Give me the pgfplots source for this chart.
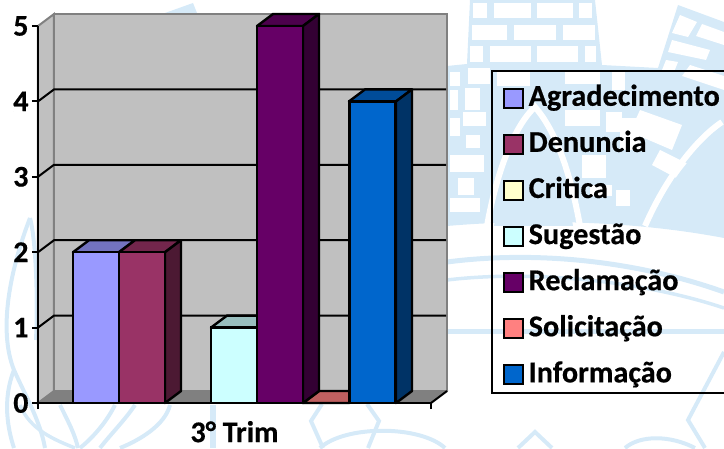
\documentclass[border=0pt]{standalone}
\usepackage{fontspec}
\setmainfont[BoldFeatures={FakeBold=0.5}]{Carlito}
\usepackage{pgfplots}
\pgfplotsset{compat=1.18}

\definecolor{cAgr}{RGB}{153,153,255}
\definecolor{cDen}{RGB}{153,51,102}
\definecolor{cCri}{RGB}{255,255,204}
\definecolor{cSug}{RGB}{204,255,255}
\definecolor{cRec}{RGB}{102,0,102}
\definecolor{cSol}{RGB}{255,128,128}
\definecolor{cInf}{RGB}{0,102,204}
\definecolor{wall}{RGB}{192,192,192}
\definecolor{edge}{RGB}{128,128,128}
\definecolor{wm}{RGB}{214,234,248}

\pgfplotsset{
  front/.style={ybar, bar width=46pt, bar shift=0pt, draw=black, line width=2.4pt, fill=#1},
  face/.style={forget plot, draw=black, line width=2.4pt, line join=round, fill=#1},
  gridl/.style={forget plot, draw=black, line width=2pt},
}

\begin{document}
\begin{tikzpicture}
\clip (-38pt,-45pt) rectangle (686pt,403pt);
% faint building in the slide background, in pixels of the picture
\begin{scope}[x=1pt,y=-1pt,shift={(-38pt,403pt)}]
\fill[wm] (470,0)--(595,0)--(602,65)--(658,68)--(678,5)--(724,22)--(724,238)
   .. controls (640,222) and (540,218) .. (447,226)--(447,66)--(467,64)--cycle;
\foreach \a/\b/\c/\d in {
   473/3/487/18, 494/3/531/18, 537/3/573/18, 579/3/592/18,
   472/25/507/40, 514/25/556/40, 563/25/595/40,
   470/46/483/62, 490/46/531/62, 537/46/578/62, 585/46/596/62,
   468/68/490/84, 497/72/530/86, 565/72/600/84, 612/72/625/90,
   450/72/460/86, 465/88/480/110, 450/90/458/110, 463/112/486/126,
   450/118/460/136, 466/135/480/148, 450/155/484/172, 458/178/474/195,
   450/198/480/212, 565/110/600/126, 606/112/622/132, 582/155/606/178,
   590/185/612/196, 616/190/630/206, 620/118/640/150}
   \fill[white] (\a,\b) rectangle (\c,\d);
\fill[white] (680,15)--(697,22)--(688,37)--(672,33)--cycle;
\fill[white] (702,24)--(724,32)--(724,45)--(696,36)--cycle;
\fill[white] (672,40)--(710,50)--(706,60)--(668,52)--cycle;
\fill[white] (666,60)--(678,62)--(674,72)--(662,70)--cycle;
\fill[white] (690,65)--(724,76)--(724,90)--(682,76)--cycle;
\fill[white] (640,110)--(682,125)--(672,150)--(630,132)--cycle;
\fill[white] (660,150)--(690,165)--(680,180)--(652,165)--cycle;
% arches
\draw[white,line width=6pt] (487,226) .. controls (497,170) and (515,125) .. (535,107)
   .. controls (555,130) and (570,170) .. (580,226);
\draw[white,line width=6pt] (645,226) .. controls (665,180) and (695,140) .. (722,122);
\fill[wm] (650,226) .. controls (668,182) and (695,148) .. (724,130) -- (724,236)--cycle;
\fill[wm] (494,226) .. controls (503,175) and (518,135) .. (535,116)
   .. controls (552,138) and (565,175) .. (573,226)--cycle;
% curved bands
\draw[wm,line width=5pt] (447,262) .. controls (540,250) and (640,262) .. (724,292);
\draw[wm,line width=3.5pt] (447,280) .. controls (530,270) and (640,280) .. (724,308);
\draw[wm,line width=5pt] (447,331) -- (724,331);
\draw[wm,line width=4pt] (724,352) -- (688,420) -- (705,448);
\draw[wm,line width=4pt] (518,448) -- (535,432) -- (552,448);
\draw[wm,line width=4pt] (625,448) .. controls (640,435) and (670,435) .. (695,448);
% lower middle
\draw[wm,line width=6pt] (213,405) -- (213,448);
\draw[wm,line width=4pt] (322,404) -- (311,421) -- (323,448);
\draw[wm,line width=4pt] (367,404) -- (379,421) -- (368,448);
\draw[wm,line width=4pt] (320,448) .. controls (345,425) and (420,425) .. (445,448);
% leaves, lower left
\draw[wm,line width=4pt] (30,218) .. controls (10,270) and (-2,330) .. (14,370)
   .. controls (25,395) and (40,420) .. (45,448);
\draw[wm,line width=4pt] (30,218) .. controls (36,240) and (38,300) .. (36,340);
\draw[wm,line width=4pt] (14,370) .. controls (2,400) and (8,430) .. (14,448);
\draw[wm,line width=3.5pt] (20,405) .. controls (30,430) and (55,440) .. (75,448);
\draw[wm,line width=4pt] (60,405) .. controls (70,425) and (75,435) .. (78,448);
\draw[wm,line width=4pt] (115,405) .. controls (105,425) and (90,440) .. (80,448);
\draw[wm,line width=4pt] (170,405) .. controls (165,425) and (140,440) .. (120,448);
\draw[wm,line width=4pt] (135,405) .. controls (125,420) and (110,435) .. (100,448);
% wedge above the wall
\fill[wm] (165,13)--(193,3)--(197,13)--cycle;
\end{scope}
\begin{axis}[
    scale only axis,
    width=393pt, height=377pt,
    xmin=0, xmax=393, ymin=0, ymax=5,
    clip=false,
    axis on top,
    axis lines=left,
    axis line style={-, line width=2.4pt, black},
    xtick={0,393}, xticklabels={},
    ytick={0,1,2,3,4,5},
    tick style={black, line width=2pt},
    tick align=outside,
    major tick length=6pt,
    /pgf/number format/assume math mode=true,
    ticklabel style={font=\fontsize{30}{30}\selectfont\bfseries},
    xlabel={3° Trim},
    xlabel style={font=\fontsize{30}{30}\selectfont\bfseries, inner sep=0pt, yshift=-5pt},
    legend cell align=left,
    legend style={
        at={(axis cs:461.5,4.25)}, anchor=north west,
        draw=none, fill=none,
        row sep=18.1pt,
        font=\fontsize{30.2}{30}\selectfont\bfseries,
        nodes={text height=20pt, text depth=6pt, inner sep=1pt},
    },
    legend image code/.code={
        \draw[#1, line width=2pt] (0pt,-9pt) rectangle (19pt,10pt);
        \path[draw=none, fill=none] (0pt,0pt) -- (24pt,0pt);
    },
]
% walls and floor
\addplot[forget plot, fill=wall, draw=edge, line width=2pt] coordinates {(16,0.159)(409,0.159)(409,5.159)(16,5.159)} -- cycle;
\addplot[forget plot, fill=wall, draw=edge, line width=2pt] coordinates {(0,0)(16,0.159)(16,5.159)(0,5)} -- cycle;
\addplot[forget plot, fill=edge, draw=edge, line width=1pt] coordinates {(0,0)(16,0.159)(409,0.159)(393,0)} -- cycle;
\addplot[gridl] coordinates {(393,0)(409,0.159)};
% grid
\addplot[gridl] coordinates {(0,1)(16,1.159)(408,1.159)};
\addplot[gridl] coordinates {(0,2)(16,2.159)(408,2.159)};
\addplot[gridl] coordinates {(0,3)(16,3.159)(408,3.159)};
\addplot[gridl] coordinates {(0,4)(16,4.159)(408,4.159)};

% Agradecimento
\addplot[face=cAgr!75!black] coordinates {(35,2)(51,2.159)(97,2.159)(81,2)} -- cycle;
\addplot[front=cAgr] coordinates {(58,2)};
\addlegendentry{Agradecimento}
% Denuncia
\addplot[face=cDen!75!black] coordinates {(81,2)(97,2.159)(143,2.159)(127,2)} -- cycle;
\addplot[face=cDen!50!black] coordinates {(127,0)(143,0.159)(143,2.159)(127,2)} -- cycle;
\addplot[front=cDen] coordinates {(104,2)};
\addlegendentry{Denuncia}
% Critica is zero, only its legend swatch shows
\addplot[front=cCri] coordinates {(150,0)};
\addlegendentry{Critica}
% Sugestao
\addplot[face=cSug!75!black] coordinates {(173,1)(189,1.159)(235,1.159)(219,1)} -- cycle;
\addplot[front=cSug] coordinates {(196,1)};
\addlegendentry{Sugestão}
% Solicitacao floor patch goes under the purple side
\addplot[face=cSol!75!black] coordinates {(265,0)(281,0.159)(327,0.159)(311,0)} -- cycle;
% Reclamacao
\addplot[face=cRec!75!black] coordinates {(219,5)(235,5.159)(281,5.159)(265,5)} -- cycle;
\addplot[face=cRec!50!black] coordinates {(265,0)(281,0.159)(281,5.159)(265,5)} -- cycle;
\addplot[front=cRec] coordinates {(242,5)};
\addlegendentry{Reclamação}
\addplot[front=cSol] coordinates {(288,0)};
\addlegendentry{Solicitação}
% Informacao
\addplot[face=cInf!75!black] coordinates {(311,4)(327,4.159)(374,4.159)(358,4)} -- cycle;
\addplot[face=cInf!50!black] coordinates {(358,0)(374,0.159)(374,4.159)(358,4)} -- cycle;
\addplot[front=cInf] coordinates {(334.5,4)};
\addlegendentry{Informação}
\end{axis}
\draw[line width=2pt] (700pt,332pt) -- (454pt,332pt) -- (454pt,10pt) -- (700pt,10pt);
\end{tikzpicture}
\end{document}
